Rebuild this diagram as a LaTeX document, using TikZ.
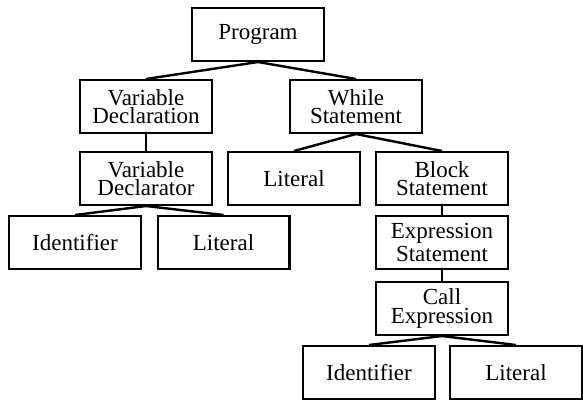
\documentclass[tikz,border=0pt]{standalone}
\usepackage{fontspec}
\setmainfont{Liberation Serif}
\usetikzlibrary{positioning}

\begin{document}
\begin{tikzpicture}[x=1pt,y=1pt,
box/.style={draw,line width=1.2pt,minimum width=65.8pt,minimum height=26.3pt,align=center,inner sep=1pt,
  font=\fontsize{11.5pt}{9.3pt}\selectfont},
edge/.style={line width=1.2pt}]
\useasboundingbox (0,0) rectangle (291.5,-202);
\node[box] (prog) at (129,-17.25) {Program};
\node[box,below=8.5pt of prog,xshift=-56pt] (vdecl) {Variable\\Declaration};
\node[box,below=8.5pt of prog,xshift=49pt] (whilest) {While\\Statement};
\node[box,below=8.5pt of vdecl] (vdtor) {Variable\\Declarator};
\node[box,below=8.5pt of whilest,xshift=-31pt] (lit) {Literal};
\node[box,below=8.5pt of whilest,xshift=43pt] (block) {Block\\Statement};
\node[box,below=4.5pt of vdtor,xshift=-35.5pt] (vident) {Identifier};
\node[box,below=4.5pt of vdtor,xshift=38.75pt] (vlit) {Literal};
\node[box,below=4.5pt of block] (exprst) {Expression\\Statement};
\node[box,below=5.5pt of exprst] (callex) {Call\\Expression};
\node[box,below=4.5pt of callex,xshift=-36.5pt] (cident) {Identifier};
\node[box,below=4.5pt of callex,xshift=37pt] (clit) {Literal};
\draw[edge] (prog.south)--(vdecl.north);
\draw[edge] (prog.south)--(whilest.north);
\draw[edge] (vdecl.south)--(vdtor.north);
\draw[edge] (whilest.south)--(lit.north);
\draw[edge] (whilest.south)--(block.north);
\draw[edge] (vdtor.south)--(vident.north);
\draw[edge] (vdtor.south)--(vlit.north);
\draw[edge] (block.south)--(exprst.north);
\draw[edge] (exprst.south)--(callex.north);
\draw[edge] (callex.south)--(cident.north);
\draw[edge] (callex.south)--(clit.north);
\end{tikzpicture}
\end{document}
